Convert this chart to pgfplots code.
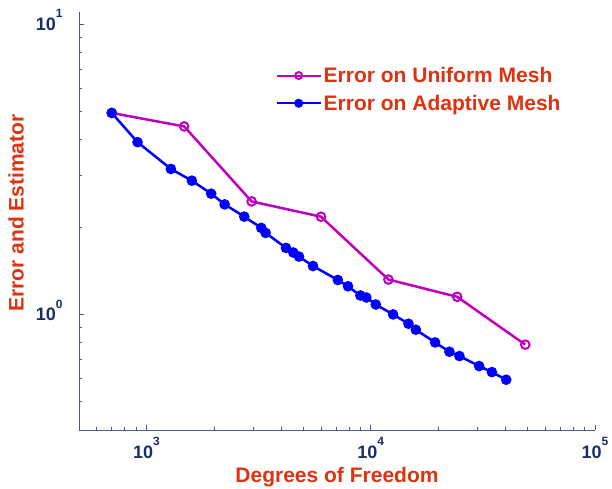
\documentclass[border=0pt]{standalone}
\usepackage{fontspec}
\setmainfont{Liberation Sans}
\usepackage{pgfplots}
\pgfplotsset{compat=1.18}
\definecolor{lblred}{HTML}{DD3311}
\definecolor{ticknavy}{HTML}{1A2C6B}
\definecolor{axisgray}{HTML}{4A5A8C}
\definecolor{unimag}{HTML}{BF00BF}
\definecolor{adablue}{HTML}{0000FF}
% power-of-ten tick label
\newcommand{\tl}[1]{10\raisebox{0.7em}{\fontsize{12}{12}\selectfont #1}}

\begin{document}
\begin{tikzpicture}
\begin{axis}[
    scale only axis,
    width=516pt, height=418pt,
    xmode=log, ymode=log,
    xmin=500, xmax=1e5, ymin=0.4, ymax=11,
    axis x line=bottom, axis y line=left,
    axis line style={-, axisgray, line width=1pt},
    tick align=inside,
    tick style={axisgray, line width=0.8pt},
    major tick length=5pt, minor tick length=3pt,
    xtick={1000,10000,100000},
    xticklabels={\tl{3},\tl{4},\tl{5}},
    minor xtick={600,700,800,900,2000,3000,4000,5000,6000,7000,8000,9000,20000,30000,40000,50000,60000,70000,80000,90000},
    ytick={1,10},
    yticklabels={\tl{0},\tl{1}},
    minor ytick={0.5,0.6,0.7,0.8,0.9,2,3,4,5,6,7,8,9},
    ticklabel style={font=\fontsize{18}{18}\selectfont\bfseries, text=ticknavy},
    xticklabel style={yshift=-4pt},
    yticklabel style={yshift=4pt, xshift=-13pt},
    xlabel={Degrees of Freedom},
    ylabel={Error and Estimator},
    label style={font=\fontsize{21}{21}\selectfont\bfseries, text=lblred},
    xlabel style={at={(axis description cs:0.5,-0.1136)}, anchor=center},
    ylabel style={at={(axis description cs:-0.122,0.519)}, anchor=center},
    legend style={at={(axis description cs:0.375,0.878)}, anchor=north west,
        draw=none, fill=none, row sep=7pt, font=\fontsize{21}{21}\selectfont\bfseries, text=lblred},
    legend cell align=left,
    legend image code/.code={\draw[mark repeat=2, mark phase=2, #1, mark size=3.5pt, line width=2pt]
        plot coordinates {(0pt,0pt)(22pt,0pt)(44pt,0pt)};},
]
\addplot[unimag, line width=2.5pt, mark=o, mark size=4.3pt, mark options={line width=2pt}] coordinates {
    (700,4.94) (1472,4.44) (2942,2.45) (6000,2.17) (11985,1.319) (24280,1.15) (48860,0.787)
};
\addplot[adablue, line width=2.5pt, mark=*, mark size=4pt] coordinates {
    (700,4.94) (912,3.92) (1284,3.17) (1593,2.888) (1943,2.605) (2230,2.393) (2728,2.172)
    (3249,1.986) (3398,1.909) (4187,1.695) (4512,1.634) (4786,1.582) (5526,1.468) (7131,1.314)
    (7917,1.250) (8986,1.162) (9559,1.144) (10527,1.082) (12577,1.0) (14722,0.929) (15880,0.886)
    (19364,0.801) (22430,0.744) (24860,0.719) (30440,0.664) (34690,0.633) (40180,0.596)
};
\legend{Error on Uniform Mesh, Error on Adaptive Mesh}
\end{axis}
\pgfresetboundingbox
\path (-79pt,-59pt) rectangle (533pt,430pt);
\end{tikzpicture}
\end{document}
